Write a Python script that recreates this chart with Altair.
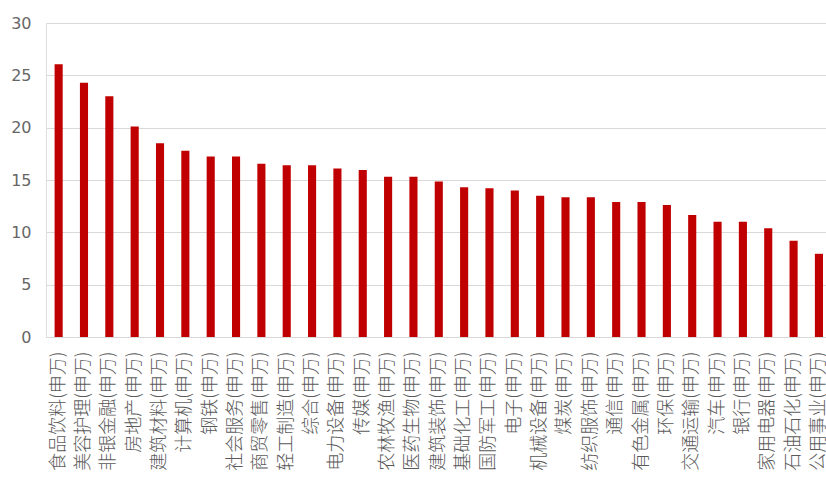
import altair as alt
import pandas as pd

categories = [
    "食品饮料(申万)", "美容护理(申万)", "非银金融(申万)", "房地产(申万)", "建筑材料(申万)",
    "计算机(申万)", "钢铁(申万)", "社会服务(申万)", "商贸零售(申万)", "轻工制造(申万)",
    "综合(申万)", "电力设备(申万)", "传媒(申万)", "农林牧渔(申万)", "医药生物(申万)",
    "建筑装饰(申万)", "基础化工(申万)", "国防军工(申万)", "电子(申万)", "机械设备(申万)",
    "煤炭(申万)", "纺织服饰(申万)", "通信(申万)", "有色金属(申万)", "环保(申万)",
    "交通运输(申万)", "汽车(申万)", "银行(申万)", "家用电器(申万)", "石油石化(申万)",
    "公用事业(申万)",
]
values = [
    26.05, 24.3, 23.0, 20.1, 18.5,
    17.8, 17.25, 17.25, 16.55, 16.4,
    16.4, 16.1, 15.95, 15.3, 15.3,
    14.85, 14.3, 14.2, 14.0, 13.5,
    13.35, 13.35, 12.9, 12.9, 12.6,
    11.65, 11.0, 11.0, 10.4, 9.2,
    7.95,
]
y_ticks = [0, 5, 10, 15, 20, 25, 30]

df = pd.DataFrame({"cat": categories, "val": values})

chart = alt.Chart(df).mark_bar(color="#C00000").encode(
    x=alt.X(
        "cat:N",
        sort=None,
        title=None,
        scale=alt.Scale(paddingInner=0.68, paddingOuter=0.229, align=0.74),
        axis=alt.Axis(
            labelAngle=-90,
            labelFontSize=18,
            labelFontWeight=300,
            labelColor="#595959",
            labelFont="Noto Sans CJK SC",
            labelPadding=14,
            ticks=False,
            domain=True,
            domainColor="#d9d9d9",
            labelOverlap=False,
            labelLimit=400,
        ),
    ),
    y=alt.Y(
        "val:Q",
        title=None,
        scale=alt.Scale(domain=[0, 30], nice=False),
        axis=alt.Axis(
            values=y_ticks,
            labelFontSize=16,
            labelColor="#666666",
            labelFont="DejaVu Sans",
            labelPadding=15,
            ticks=False,
            domain=False,
            gridColor="#d9d9d9",
            gridWidth=1,
        ),
    ),
).properties(
    width=780,
    height=314,
    autosize=alt.AutoSizeParams(type="none"),
    padding={"left": 46, "top": 23, "right": 0, "bottom": 155},
).configure_view(stroke=None).configure(background="white")

chart.save("out.html", embed_options={"renderer": "svg", "actions": False})
